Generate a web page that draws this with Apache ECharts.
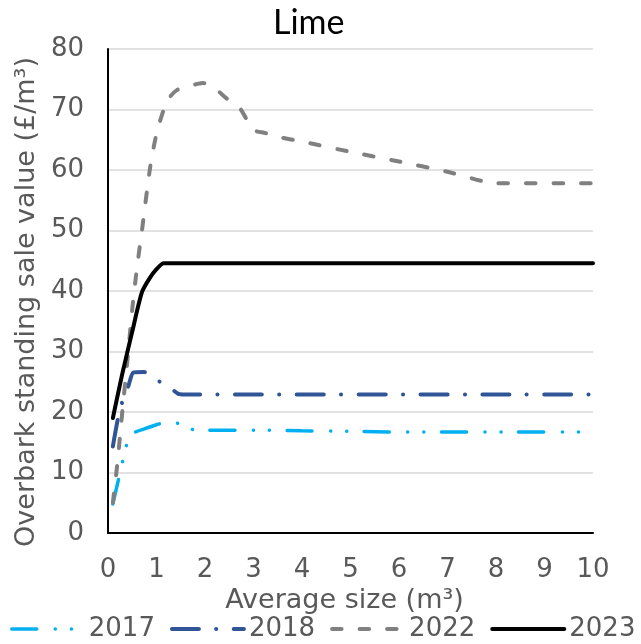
<!DOCTYPE html>
<html>
<head>
<meta charset="utf-8">
<script src="https://cdn.jsdelivr.net/npm/echarts@6/dist/echarts.min.js"></script>
<style>
html,body{margin:0;padding:0;background:#fff;}
#c{width:641px;height:644px;}
</style>
</head>
<body>
<div id="c"></div>
<script>
const chartTitle = 'Lime';
const xAxisName = 'Average size (m³)';
const yAxisName = 'Overbark standing sale value (£/m³)';
const seriesNames = ['2017', '2018', '2022', '2023'];

const x2017 = [0.1, 0.25, 0.4, 0.5, 0.75, 1, 1.25, 1.5, 1.75, 2, 3, 4, 5, 6, 8, 10];
const y2017 = [4.8, 10, 15, 16.4, 17.2, 17.9, 18.4, 18.0, 17.1, 17.0, 17.0, 16.9, 16.8, 16.7, 16.7, 16.7];

const x2018 = [0.1, 0.2, 0.3, 0.42, 0.52, 0.75, 1, 1.25, 1.45, 1.6, 10];
const y2018 = [14.3, 18.7, 21.8, 24.3, 26.5, 26.6, 25.3, 24.2, 23.0, 22.9, 22.9];

const x2022 = [0.1, 0.2, 0.3, 0.4, 0.5, 0.6, 0.7, 0.87, 1, 1.15, 1.25, 1.42, 1.7, 1.95, 2.2, 2.45, 2.7, 2.85, 3, 3.25, 3.55, 4, 5, 6, 7, 7.7, 8, 10];
const y2022 = [5, 12, 20.5, 28.5, 37, 44, 50, 60.5, 66, 70, 71.8, 73.2, 73.9, 74.4, 73.5, 71.8, 70.4, 68.5, 66.6, 66.1, 65.4, 64.7, 63, 61.4, 59.7, 58.2, 57.8, 57.8];

const x2023 = [0.1, 0.3, 0.5, 0.7, 0.85, 1, 1.15, 10];
const y2023 = [19, 26.5, 33.3, 39.8, 42, 43.6, 44.6, 44.6];

const xTicks = {min: 0, max: 10, interval: 1};
const yTicks = {min: 0, max: 80, interval: 10};

function pairs(xs, ys) { return xs.map((x, i) => [x, ys[i]]); }

const colors = ['#00b0f0', '#2f5597', '#808080', '#000000'];
const widths = [3.5, 4, 4, 4];
const dashes = [[25, 18.5, 0.1, 16, 0.1, 17.5], [27, 17.2, 0.1, 17.5], [9.5, 18], 'solid'];
const smooths = [0.25, 0.2, 0.25, 0.25];
const xs = [x2017, x2018, x2022, x2023];
const ys = [y2017, y2018, y2022, y2023];

const labelFont = 'DejaVu Sans';
const chart = echarts.init(document.getElementById('c'), null, {renderer: 'canvas'});
chart.setOption({
  animation: false,
  backgroundColor: '#fff',
  title: {
    text: chartTitle, left: 273, top: 6, padding: 0,
    textStyle: {fontFamily: 'Lato', fontSize: 34, fontWeight: 'normal', color: '#000'}
  },
  legend: {
    data: seriesNames.map((n, i) => ({
      name: n,
      lineStyle: {width: widths[i], type: dashes[i], color: colors[i], cap: 'round'}
    })),
    left: 10, top: 616, padding: 0,
    itemWidth: 72, itemHeight: 20, itemGap: 15,
    itemStyle: {opacity: 0},
    textStyle: {fontFamily: labelFont, fontSize: 26, color: '#595959'}
  },
  grid: {left: 108, right: 48, top: 49, bottom: 111, containLabel: false},
  xAxis: {
    type: 'value', min: xTicks.min, max: xTicks.max, interval: xTicks.interval,
    name: xAxisName, nameLocation: 'middle', nameGap: 49,
    nameTextStyle: {fontFamily: labelFont, fontSize: 27, color: '#595959', padding: [0, 12, 0, 0]},
    axisLine: {show: true, onZero: false, lineStyle: {color: '#000', width: 2}},
    axisTick: {show: false},
    splitLine: {show: false},
    axisLabel: {margin: 24, fontFamily: labelFont, fontSize: 26, color: '#595959'}
  },
  yAxis: {
    type: 'value', min: yTicks.min, max: yTicks.max, interval: yTicks.interval,
    name: yAxisName, nameLocation: 'middle', nameGap: 68,
    nameTextStyle: {fontFamily: labelFont, fontSize: 27, color: '#595959', padding: [0, 22, 0, 0]},
    axisLine: {show: true, lineStyle: {color: '#000', width: 2}},
    axisTick: {show: false},
    splitLine: {show: true, lineStyle: {color: '#d9d9d9', width: 1.5}},
    axisLabel: {margin: 24, fontFamily: labelFont, fontSize: 26, color: '#595959'}
  },
  series: seriesNames.map((n, i) => ({
    name: n, type: 'line', data: pairs(xs[i], ys[i]), symbol: 'none', smooth: smooths[i],
    itemStyle: {color: colors[i]},
    lineStyle: {color: colors[i], width: widths[i], type: dashes[i], cap: 'round'}
  }))
});
</script>
</body>
</html>
